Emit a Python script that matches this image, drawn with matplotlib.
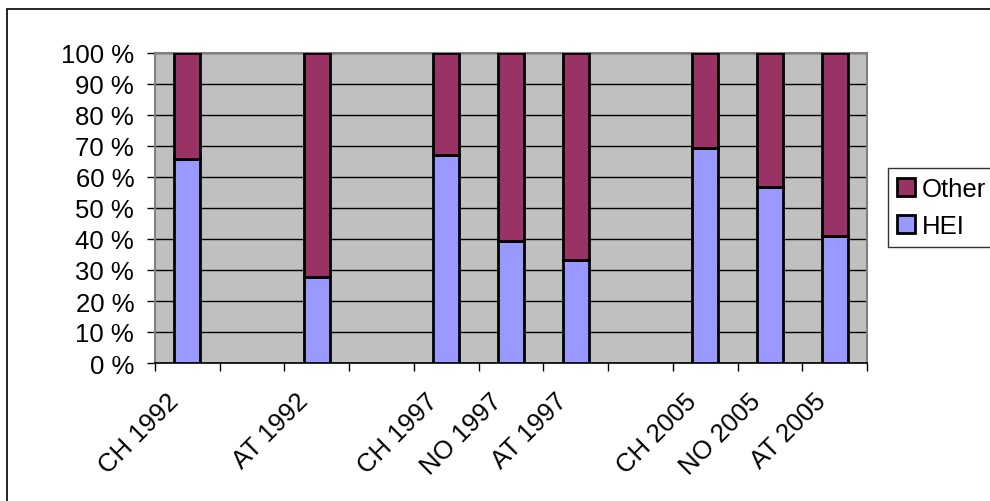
import matplotlib
matplotlib.use("Agg")
import matplotlib.pyplot as plt
import matplotlib.transforms as mtransforms
from matplotlib.patches import Rectangle
import numpy as np

plt.rcParams['font.family'] = ['Liberation Sans', 'DejaVu Sans']

# Categories (empty strings are spacer slots between survey years)
categories = ["CH 1992", "", "AT 1992", "", "CH 1997", "NO 1997", "AT 1997",
              "", "CH 2005", "NO 2005", "AT 2005"]
hei = [65.8, np.nan, 27.6, np.nan, 67.1, 39.5, 33.2, np.nan, 69.2, 56.7, 40.9]
other = [100 - v for v in hei]
yticks = [0, 10, 20, 30, 40, 50, 60, 70, 80, 90, 100]
ytick_labels = [f"{v} %" for v in yticks]

C_HEI = "#9999FF"
C_OTHER = "#993366"
C_PLOT = "#C0C0C0"
FS = 18.5

fig = plt.figure(figsize=(9.9, 5.02), dpi=100)
ax = fig.add_axes([155 / 990, 1 - 364 / 502, (867 - 155) / 990, (364 - 54) / 502])
ax.set_facecolor(C_PLOT)

x = np.arange(len(categories))
hei_arr = np.array(hei, dtype=float)
other_arr = np.array(other, dtype=float)
mask = ~np.isnan(hei_arr)

ax.bar(x[mask], hei_arr[mask], width=0.4, color=C_HEI, edgecolor="black",
       linewidth=2, label="HEI", zorder=3)
ax.bar(x[mask], other_arr[mask], width=0.4, bottom=hei_arr[mask], color=C_OTHER,
       edgecolor="black", linewidth=2, label="Other", zorder=3)

ax.set_xlim(-0.5, len(categories) - 0.5)
ax.set_ylim(0, 100)

# Horizontal gridlines
ax.set_yticks(yticks)
ax.set_yticklabels(ytick_labels, fontsize=FS)
ax.yaxis.grid(True, color="black", linewidth=1.0, zorder=1)
ax.set_axisbelow(True)

# Category boundary ticks, labels centred on each slot
ax.set_xticks(np.arange(len(categories) + 1) - 0.5)
ax.set_xticklabels([])
ax.set_xticks(x, minor=True)
ax.set_xticklabels(categories, minor=True, rotation=45, ha="right",
                   rotation_mode="anchor", fontsize=FS)
ax.tick_params(axis="x", which="minor", length=0, pad=12)
ax.tick_params(axis="x", which="major", length=6, width=1, color="black", direction="out")
ax.tick_params(axis="y", length=6, width=1, color="black", direction="out", pad=9)

shift = mtransforms.ScaledTranslation(-21 / 100, -9 / 100, fig.dpi_scale_trans)
for lbl in ax.get_xticklabels(minor=True):
    lbl.set_transform(lbl.get_transform() + shift)

for side in ["top", "right", "left"]:
    ax.spines[side].set_color("#808080")
    ax.spines[side].set_linewidth(1.5)
ax.spines["bottom"].set_color("black")
ax.spines["bottom"].set_linewidth(1.2)

handles, labels = ax.get_legend_handles_labels()
leg = fig.legend(handles[::-1], labels[::-1], loc="upper left",
                 bbox_to_anchor=(888 / 990, 1 - 169 / 502), fontsize=FS,
                 frameon=True, fancybox=False, edgecolor="black",
                 handlelength=0.7, handleheight=0.7, handletextpad=0.25,
                 borderpad=0.35, labelspacing=0.5, borderaxespad=0)
leg.get_frame().set_linewidth(1.0)

# Outer chart border
fig.patches.append(Rectangle((7 / 990, -0.05), 1.05, 1 - 10 / 502 + 0.05,
                             transform=fig.transFigure, fill=False,
                             edgecolor="black", linewidth=1.2))

fig.savefig("out.png", dpi=100)
